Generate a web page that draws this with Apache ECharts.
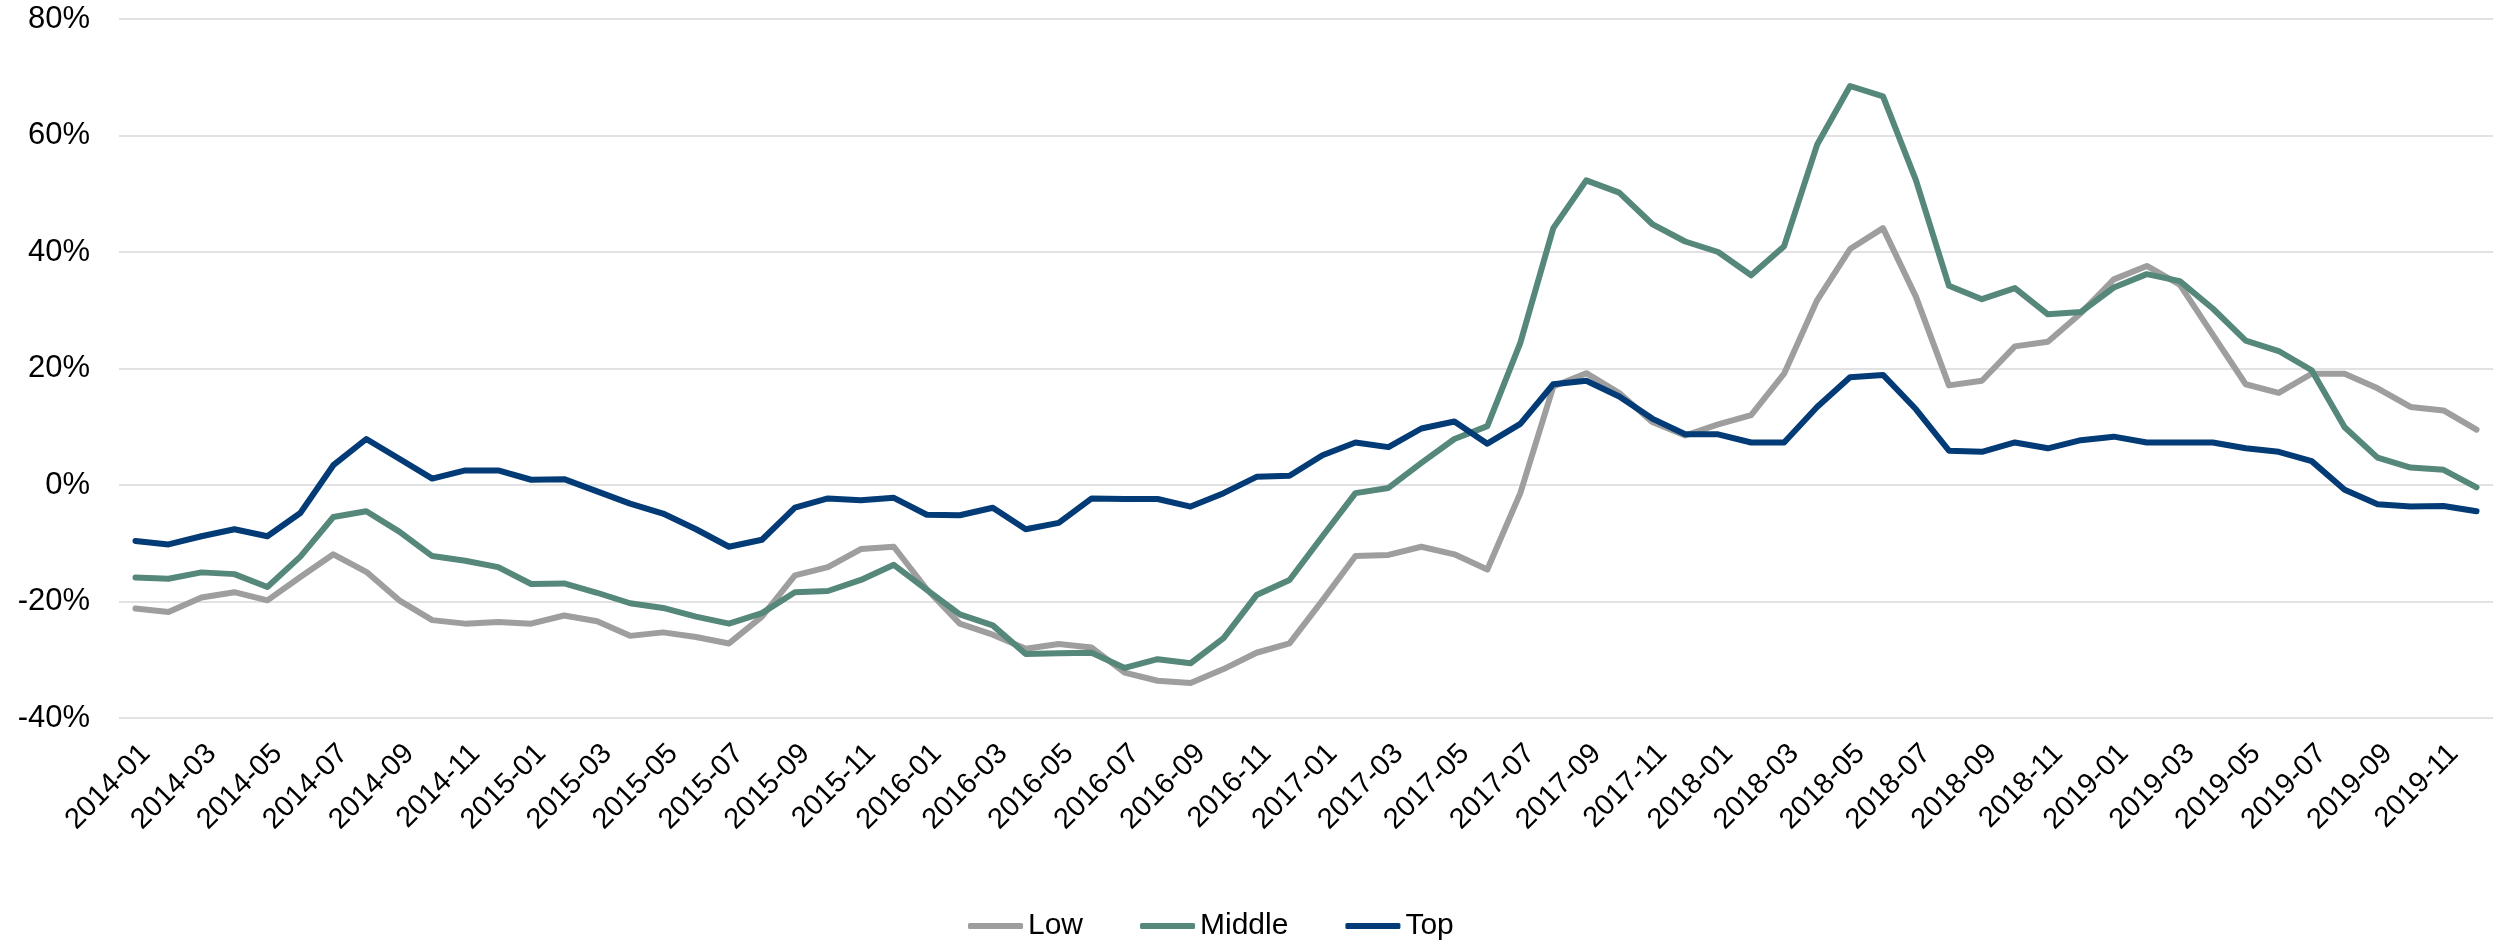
<!DOCTYPE html>
<html>
<head>
<meta charset="utf-8">
<script src="https://cdn.jsdelivr.net/npm/echarts@6/dist/echarts.min.js"></script>
<style>
html,body{margin:0;padding:0;background:#fff;}
#chart{width:2496px;height:940px;}
</style>
</head>
<body>
<div id="chart"></div>
<script>
const categories = [
 "2014-01","2014-02","2014-03","2014-04","2014-05","2014-06","2014-07","2014-08","2014-09","2014-10","2014-11","2014-12",
 "2015-01","2015-02","2015-03","2015-04","2015-05","2015-06","2015-07","2015-08","2015-09","2015-10","2015-11","2015-12",
 "2016-01","2016-02","2016-03","2016-04","2016-05","2016-06","2016-07","2016-08","2016-09","2016-10","2016-11","2016-12",
 "2017-01","2017-02","2017-03","2017-04","2017-05","2017-06","2017-07","2017-08","2017-09","2017-10","2017-11","2017-12",
 "2018-01","2018-02","2018-03","2018-04","2018-05","2018-06","2018-07","2018-08","2018-09","2018-10","2018-11","2018-12",
 "2019-01","2019-02","2019-03","2019-04","2019-05","2019-06","2019-07","2019-08","2019-09","2019-10","2019-11","2019-12"
];

const lowValues = [
 -21.2,-21.8,-19.3,-18.4,-19.8,-15.8,-11.9,-14.9,-19.8,-23.2,-23.8,-23.5,
 -23.8,-22.4,-23.4,-25.9,-25.3,-26.1,-27.2,-22.6,-15.5,-14.1,-11.0,-10.6,
 -17.9,-23.8,-25.7,-28.1,-27.3,-27.9,-32.2,-33.6,-34.0,-31.6,-28.8,-27.2,
 -19.8,-12.2,-12.0,-10.6,-11.9,-14.5,-1.4,16.9,19.2,15.8,10.8,8.5,
 10.4,12.0,19.1,31.7,40.5,44.1,32.3,17.1,17.9,23.8,24.6,29.5,
 35.3,37.6,34.4,25.8,17.3,15.8,19.1,19.1,16.6,13.4,12.8,9.5
];

const middleValues = [
 -15.9,-16.1,-15.0,-15.3,-17.5,-12.3,-5.5,-4.5,-8.0,-12.2,-13.0,-14.1,
 -17.0,-16.9,-18.5,-20.3,-21.1,-22.6,-23.8,-22.0,-18.4,-18.2,-16.3,-13.7,
 -18.0,-22.2,-24.1,-29.0,-28.9,-28.8,-31.4,-29.9,-30.6,-26.3,-18.9,-16.3,
 -8.8,-1.4,-0.5,3.8,7.9,10.1,24.4,44.1,52.3,50.2,44.8,41.8,
 40.0,36.0,41.0,58.4,68.5,66.7,52.3,34.2,31.9,33.8,29.3,29.7,
 33.9,36.2,35.0,30.3,24.8,23.0,19.7,9.9,4.7,3.0,2.6,-0.4
];

const topValues = [
 -9.6,-10.2,-8.8,-7.6,-8.8,-4.8,3.4,7.9,4.5,1.1,2.5,2.5,
 0.9,1.0,-1.1,-3.2,-4.9,-7.6,-10.6,-9.4,-3.9,-2.3,-2.6,-2.2,
 -5.1,-5.2,-3.9,-7.6,-6.5,-2.3,-2.4,-2.4,-3.7,-1.4,1.4,1.6,
 5.1,7.3,6.5,9.7,10.9,7.1,10.5,17.3,17.9,15.2,11.4,8.7,
 8.7,7.3,7.3,13.4,18.5,18.9,13.0,5.9,5.7,7.3,6.3,7.7,
 8.3,7.3,7.3,7.3,6.3,5.7,4.1,-0.8,-3.3,-3.7,-3.6,-4.5
];

const seriesNames = ["Low","Middle","Top"];
const seriesColors = ["#9E9E9E","#55887A","#033B76"];
const seriesData = [lowValues, middleValues, topValues];

const FONT = "'Liberation Sans', Arial, sans-serif";
const chart = echarts.init(document.getElementById('chart'), null, {renderer:'canvas'});

chart.setOption({
  animation: false,
  backgroundColor: '#ffffff',
  textStyle: {fontFamily: FONT},
  grid: {left: 119, right: 3, top: 19, bottom: 222, containLabel: false},
  legend: {
    data: seriesNames,
    left: 963,
    top: 906,
    icon: 'roundRect',
    itemWidth: 55,
    itemHeight: 6,
    itemGap: 57,
    textStyle: {fontSize: 30, color: '#000', fontFamily: FONT}
  },
  xAxis: {
    type: 'category',
    data: categories,
    boundaryGap: true,
    axisLine: {show: false},
    axisTick: {show: false},
    axisLabel: {
      interval: 1,
      rotate: 45,
      margin: 21,
      align: 'right',
      verticalAlign: 'top',
      fontSize: 29,
      color: '#000',
      fontFamily: FONT
    },
    splitLine: {show: false}
  },
  yAxis: {
    type: 'value',
    min: -40,
    max: 80,
    interval: 20,
    axisLine: {show: false},
    axisTick: {show: false},
    axisLabel: {
      formatter: '{value}%',
      fontSize: 31,
      color: '#000',
      margin: 29,
      fontFamily: FONT
    },
    splitLine: {lineStyle: {color: '#D9D9D9', width: 1.5}}
  },
  series: seriesNames.map((name, k) => ({
    name: name,
    type: 'line',
    data: seriesData[k],
    symbol: 'none',
    showSymbol: false,
    color: seriesColors[k],
    lineStyle: {width: 6, color: seriesColors[k], cap: 'round', join: 'round'},
    itemStyle: {color: seriesColors[k]}
  }))
});
</script>
</body>
</html>
